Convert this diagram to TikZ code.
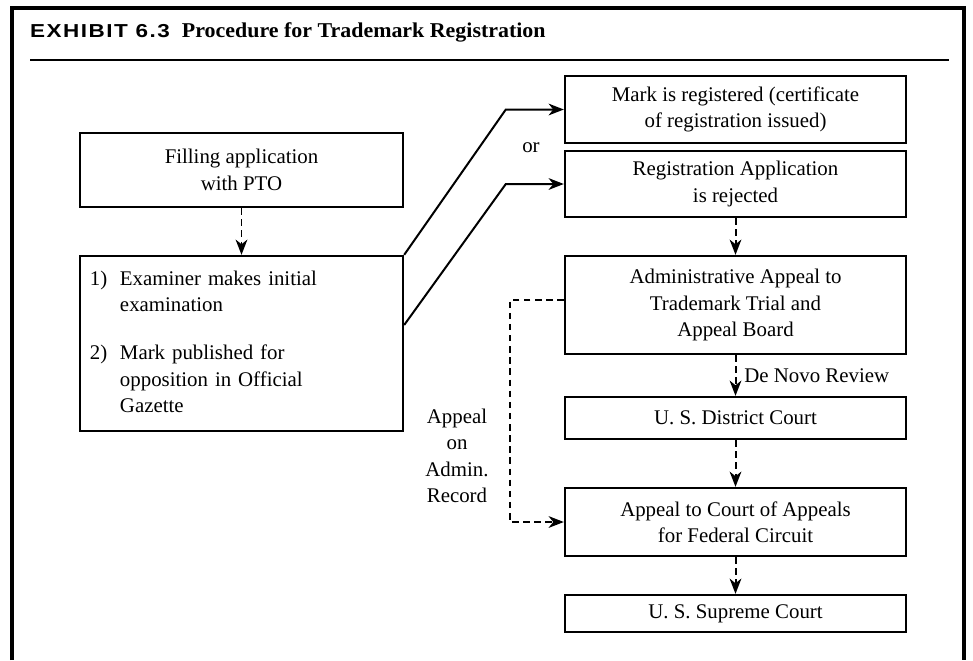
\documentclass[tikz,border=0pt]{standalone}
\usepackage{fontspec}
\setmainfont{Liberation Serif}
\newfontfamily\exhibitfont[FakeStretch=1.2,LetterSpace=8]{Liberation Sans}
\newfontfamily\headfont[FakeStretch=1.04]{Liberation Serif}
\usepackage{tikz}
\usetikzlibrary{arrows.meta, arrows}
\usetikzlibrary{positioning}

\tikzset{
  box/.style={draw, line width=2pt, rectangle, inner sep=0pt, align=center},
  rightbox/.style={box, minimum width=10.23cm},
  leftbox/.style={box, minimum width=9.69cm},
  solidarrow/.style={line width=1.7pt, -{Stealth[length=13pt, width=10pt, inset=4pt]}},
  dasharrow/.style={solidarrow, dash pattern=on 5.5pt off 4pt},
}

\begin{document}
\begin{tikzpicture}[x=0.03cm, y=-0.03cm, font=\fontsize{17.8}{22.5}\selectfont]
  \useasboundingbox (0,0) rectangle (973,660);

  % outer frame and title
  \draw[line width=2.6pt] (12,660) -- (12,8) -- (964,8) -- (964,660);
  \node[anchor=base west, inner sep=0pt] (title) at (30,37)
    {{\exhibitfont\fontsize{16}{18}\selectfont\bfseries EXHIBIT 6.3}\hspace{0.36cm}%
     {\headfont\fontsize{18}{20}\selectfont\bfseries Procedure for Trademark Registration}};
  \draw[line width=0.9pt] (30,60) -- (949,60);

  % Left column
  \node[leftbox, minimum height=2.22cm] (filling) at (241.5,170) {Filling application\\with PTO};
  \node[leftbox, minimum height=5.25cm, inner xsep=0.3cm, text width=9.09cm, align=left] (exam) at (241.5,343.5)
    {\begin{tabular}{@{}p{0.9cm}@{}l@{}}
       1) & Examiner makes initial\\
          & examination\\[0.66cm]
       2) & Mark published for\\
          & opposition in Official\\
          & Gazette
     \end{tabular}};

  % Right column
  \node[rightbox, minimum height=2.01cm] (mark) at (735.5,109.5) {Mark is registered (certificate\\of registration issued)};
  \node[rightbox, minimum height=1.98cm] (reject) at (735.5,184) {Registration Application\\is rejected};
  \node[rightbox, minimum height=2.94cm] (admin) at (735.5,305) {Administrative Appeal to\\Trademark Trial and\\Appeal Board};
  \node[rightbox, minimum height=1.26cm] (district) at (735.5,418) {U. S. District Court};
  \node[rightbox, minimum height=2.04cm] (appeals) at (735.5,522) {Appeal to Court of Appeals\\for Federal Circuit};
  \node[rightbox, minimum height=1.11cm] (supreme) at (735.5,613.5) {U. S. Supreme Court};

  \node (or) at (531,148) {or};
  \node[align=center] (adminrec) at (457,456) {Appeal\\on\\Admin.\\Record};

  % Arrows
  \draw[dasharrow] (filling) -- (exam);
  \draw[solidarrow] (exam.north east) -- ([xshift=-1.74cm]mark.west) -- (mark.west);
  \draw[solidarrow] ([yshift=0.555cm]exam.east) -- ([xshift=-1.74cm]reject.west) -- (reject.west);
  \draw[dasharrow] (reject) -- (admin);
  \draw[dasharrow] (admin) -- node[right, xshift=0.12cm] {De Novo Review} (district);
  \draw[dasharrow] (district) -- (appeals);
  \draw[dasharrow] (appeals) -- (supreme);
  \draw[dasharrow] ([yshift=0.15cm]admin.west) -- ++(-1.62cm,0) |- (appeals.west);
\end{tikzpicture}
\end{document}
